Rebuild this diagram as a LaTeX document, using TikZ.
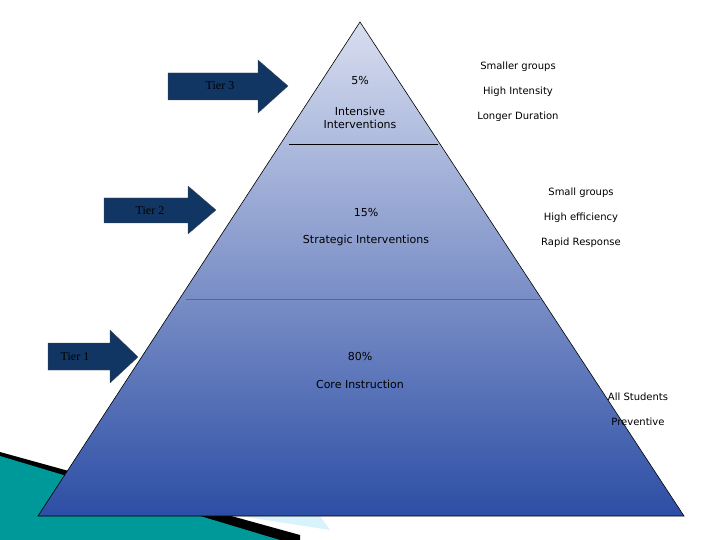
\documentclass[tikz,border=0pt]{standalone}
\usepackage{fontspec}
\setmainfont{DejaVu Sans}
\newfontfamily\tierfont{Liberation Serif}
\begin{document}
\begin{tikzpicture}[x=1pt,y=-1pt,
  lbl/.style={font=\fontsize{10}{12}\selectfont,inner sep=0pt},
  big/.style={font=\fontsize{11}{13}\selectfont,inner sep=0pt,align=center},
  tier/.style={font=\tierfont\fontsize{12}{14}\selectfont,inner sep=0pt}]
\useasboundingbox (0,0) rectangle (720,540);
\fill[white] (0,0) rectangle (720,540);
% decoration
\fill[black] (0,452) -- (300,535) -- (300,540) -- (0,540) -- cycle;
\fill[teal!80!cyan] (0,456) -- (280,540) -- (0,540) -- cycle;
\fill[cyan!15] (240,516) -- (320,516) -- (330,530) -- cycle;
% pyramid
\shade[top color={rgb,255:red,216;green,222;blue,240}, bottom color={rgb,255:red,45;green,78;blue,165}, draw=black, line width=0.6pt]
  (360,22) coordinate (apex) -- (684,516) coordinate (br) -- (38,516) coordinate (bl) -- cycle;
\coordinate (l1a) at (289,144); \coordinate (l1b) at (438,144);
\coordinate (l2a) at (186,299); \coordinate (l2b) at (540,299);
\draw[black,line width=0.6pt] (l1a) -- (l1b);
\draw[black!60,line width=0.6pt] (l2a) -- (l2b);
% arrows
\tikzset{tarrow/.style={fill={rgb,255:red,17;green,54;blue,100},draw=black!70,line width=0.3pt}}
\draw[tarrow] (168,73) -- (258,73) -- (258,60) -- (288,86) -- (258,113) -- (258,100) -- (168,100) -- cycle;
\draw[tarrow] (104,198) -- (188,198) -- (188,186) -- (216,210) -- (188,234) -- (188,223) -- (104,223) -- cycle;
\draw[tarrow] (48,343) -- (110,343) -- (110,330) -- (138,357) -- (110,383) -- (110,370) -- (48,370) -- cycle;
\node[tier] (t3) at (220,86) {Tier 3};
\node[tier] (t2) at (150,211) {Tier 2};
\node[tier] (t1) at (75,357) {Tier 1};
% pyramid texts
\node[big] (p5) at (360,80) {5\%};
\node[big] (i5) at (360,118) {Intensive\\Interventions};
\node[big] (p15) at (366,212) {15\%};
\node[big] (s15) at (366,240) {Strategic Interventions};
\node[big] (p80) at (360,356) {80\%};
\node[big] (c80) at (360,384) {Core Instruction};
% side texts
\node[lbl] (a1) at (518,67) {Smaller groups};
\node[lbl] (a2) at (518,92) {High Intensity};
\node[lbl] (a3) at (518,117) {Longer Duration};
\node[lbl] (b1) at (581,193) {Small groups};
\node[lbl] (b2) at (581,218) {High efficiency};
\node[lbl] (b3) at (581,243) {Rapid Response};
\node[lbl] (c1) at (638,397) {All Students};
\node[lbl] (c2) at (638,422) {Preventive};
\end{tikzpicture}
\end{document}
